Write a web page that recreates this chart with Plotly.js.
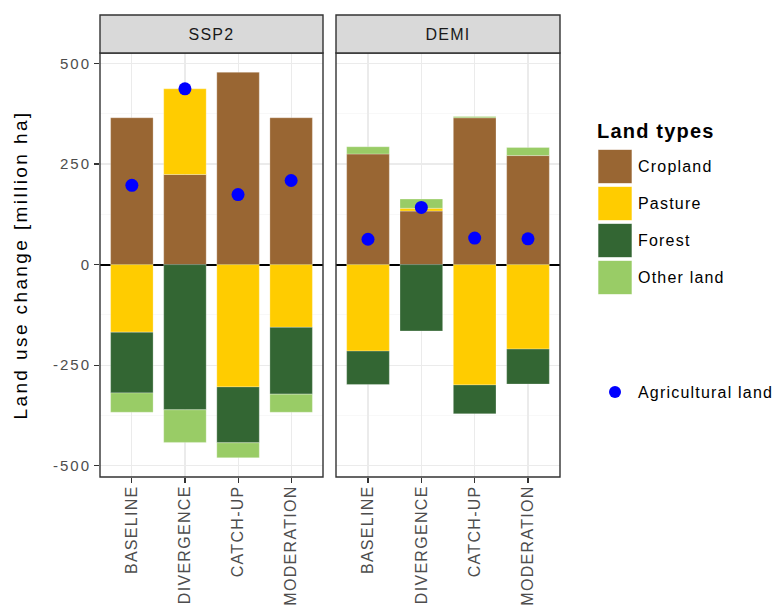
<!DOCTYPE html>
<html>
<head>
<meta charset="utf-8">
<script src="https://cdn.plot.ly/plotly-3.0.1.min.js"></script>
<style>
html,body{margin:0;padding:0;background:#fff;}
#chart{width:776px;height:605px;}
#chart .ytick text{letter-spacing:2px;}
#chart .xtick text, #chart .x2tick text{letter-spacing:1.3px;}
#chart text.ytitle{letter-spacing:2.4px;}
#chart .annotation-text-g text{letter-spacing:1.2px;}
</style>
</head>
<body>
<div id="chart"></div>
<script>
var categories = ['BASELINE', 'DIVERGENCE', 'CATCH-UP', 'MODERATION'];
var panels = ['SSP2', 'DEMI'];
var landTypes = ['Cropland', 'Pasture', 'Forest', 'Other land'];
var pointLabel = 'Agricultural land';

var ssp2Cropland = [365, 224, 478, 365];
var ssp2Pasture  = [-168, 213, -304, -156];
var ssp2Forest   = [-151, -361, -139, -166];
var ssp2Other    = [-48, -81, -37, -45];
var ssp2Agri     = [197, 437, 174, 209];

var demiCropland = [275, 133, 365, 271];
var demiPasture  = [-215, 7, -299, -210];
var demiForest   = [-83, -165, -72, -87];
var demiOther    = [18, 23, 3, 20];
var demiAgri     = [63, 142, 66, 64];

var yTicks = [-500, -250, 0, 250, 500];
var yMinor = [-375, -125, 125, 375];

var colors = ['#996633', '#FFCC00', '#336633', '#99CC66'];
var FONT = 'Liberation Sans, Arial, sans-serif';

var panelData = [
  {xa: 'x', series: [ssp2Cropland, ssp2Pasture, ssp2Forest, ssp2Other], agri: ssp2Agri},
  {xa: 'x2', series: [demiCropland, demiPasture, demiForest, demiOther], agri: demiAgri}
];

var traces = [];
panelData.forEach(function (p) {
  p.series.forEach(function (vals, i) {
    traces.push({
      type: 'bar', x: categories, y: vals, xaxis: p.xa, yaxis: 'y',
      name: landTypes[i], width: 0.8, showlegend: false,
      marker: {color: colors[i], line: {color: 'rgba(255,255,255,0.45)', width: 0.6}}
    });
  });
});
panelData.forEach(function (p) {
  traces.push({
    type: 'scatter', mode: 'markers', x: categories, y: p.agri, xaxis: p.xa, yaxis: 'y',
    name: pointLabel, showlegend: false, cliponaxis: false,
    marker: {color: '#0000FF', size: 13}
  });
});

// geometry helpers (paper coords)
var L = 100, R = 216, T = 53, B = 128, W = 776, H = 605;
var PW = W - L - R, PH = H - T - B;
function px(x) { return (x - L) / PW; }
function py(y) { return (H - B - y) / PH; }

var d1 = [0, px(323)], d2 = [px(336), 1];

var shapes = [];
var annotations = [];
[d1, d2].forEach(function (d, k) {
  shapes.push({type: 'rect', xref: 'paper', yref: 'paper', x0: d[0], x1: d[1], y0: 0, y1: 1,
    line: {color: '#333333', width: 1.4}, fillcolor: 'rgba(0,0,0,0)', layer: 'above'});
  shapes.push({type: 'rect', xref: 'paper', yref: 'paper', x0: d[0], x1: d[1], y0: 1, y1: py(15),
    line: {color: '#333333', width: 1.4}, fillcolor: '#D9D9D9', layer: 'above'});
  annotations.push({xref: 'paper', yref: 'paper', x: (d[0] + d[1]) / 2, y: (1 + py(15)) / 2,
    text: panels[k], showarrow: false, xanchor: 'center', yanchor: 'middle',
    font: {family: FONT, size: 16, color: '#1A1A1A'}});
});

// manual legend
annotations.push({xref: 'paper', yref: 'paper', x: px(595), y: py(131), text: '<b>Land types</b>',
  showarrow: false, xanchor: 'left', align: 'left', yanchor: 'middle',
  font: {family: FONT, size: 20, color: '#000'}});
var keyTops = [149.5, 186.5, 223.5, 260.5];
landTypes.forEach(function (name, i) {
  shapes.push({type: 'rect', xref: 'paper', yref: 'paper', x0: px(598), x1: px(632),
    y0: py(keyTops[i] + 34), y1: py(keyTops[i]), fillcolor: colors[i],
    line: {color: 'rgba(255,255,255,0.6)', width: 1}});
  annotations.push({xref: 'paper', yref: 'paper', x: px(636), y: py(keyTops[i] + 17), text: name,
    showarrow: false, xanchor: 'left', align: 'left', yanchor: 'middle',
    font: {family: FONT, size: 16, color: '#000'}});
});
shapes.push({type: 'circle', xref: 'paper', yref: 'paper', x0: px(609), x1: px(621),
  y0: py(398), y1: py(386), fillcolor: '#0000FF', line: {width: 0}});
annotations.push({xref: 'paper', yref: 'paper', x: px(636), y: py(392), text: pointLabel,
  showarrow: false, xanchor: 'left', align: 'left', yanchor: 'middle',
  font: {family: FONT, size: 16, color: '#000'}});

function xaxisCfg(domain) {
  return {
    domain: domain, anchor: 'y', type: 'category', range: [-0.6, 3.6],
    showgrid: true, gridcolor: '#EBEBEB', gridwidth: 1.1,
    ticks: 'outside', ticklen: 5, tickcolor: '#333333', tickwidth: 1.1,
    ticklabelstandoff: -4,
    tickangle: -90, tickfont: {family: FONT, size: 16, color: '#4D4D4D'},
    showline: false, zeroline: false, automargin: false, fixedrange: true
  };
}

var layout = {
  width: W, height: H,
  margin: {l: L, r: R, t: T, b: B, pad: 0},
  paper_bgcolor: '#FFFFFF', plot_bgcolor: '#FFFFFF',
  barmode: 'relative', bargap: 0.2,
  showlegend: false,
  font: {family: FONT},
  xaxis: xaxisCfg(d1),
  xaxis2: xaxisCfg(d2),
  yaxis: {
    range: [-528, 526], tickvals: yTicks, ticktext: yTicks.map(String),
    showgrid: true, gridcolor: '#EBEBEB', gridwidth: 1.1,
    minor: {tickvals: yMinor, showgrid: true, gridcolor: '#F3F3F3', gridwidth: 0.6, ticklen: 0},
    zeroline: true, zerolinecolor: '#000000', zerolinewidth: 2,
    ticks: 'outside', ticklen: 5, tickcolor: '#333333', tickwidth: 1.1,
    tickfont: {family: FONT, size: 15, color: '#4D4D4D'},
    title: {text: 'Land use change [million ha]', font: {family: FONT, size: 19, color: '#000'}, standoff: 28},
    automargin: false, fixedrange: true
  },
  shapes: shapes,
  annotations: annotations
};

Plotly.newPlot('chart', traces, layout, {displayModeBar: false, staticPlot: true});
</script>
</body>
</html>
